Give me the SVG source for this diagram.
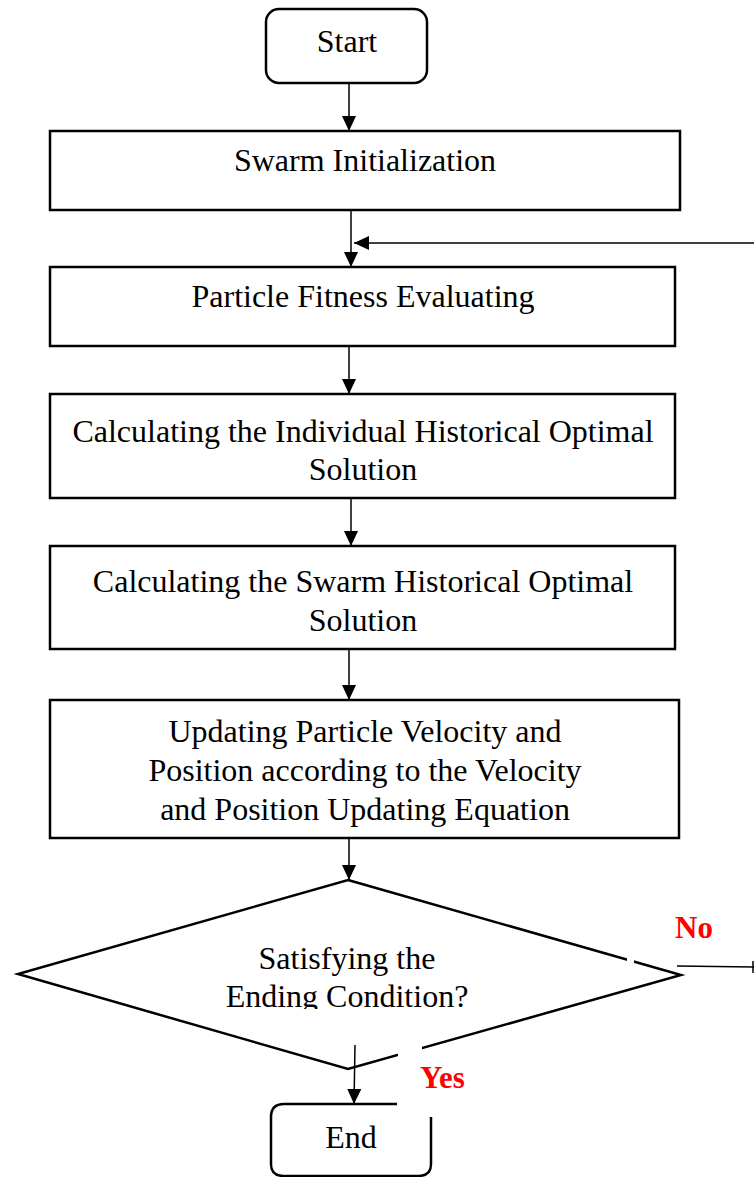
<svg xmlns="http://www.w3.org/2000/svg" width="754" height="1177" viewBox="0 0 754 1177">
<style>
.box{fill:#fff;stroke:#000;stroke-width:2.5}
.t{font-family:"Liberation Serif","Times New Roman",serif;font-size:32px;fill:#000;text-anchor:middle}
.lbl{font-family:"Liberation Serif","Times New Roman",serif;font-size:31px;font-weight:bold;fill:#ff0000}
.c{stroke:#000;stroke-width:1.5;fill:none}
</style>
<defs>
<marker id="ah" markerWidth="15" markerHeight="14" refX="15" refY="7" orient="auto" markerUnits="userSpaceOnUse">
<path d="M0,0 L15,7 L0,14 Z" fill="#000"/>
</marker>
<clipPath id="dclip"><rect x="0" y="930" width="754" height="79"/></clipPath>
</defs>
<g id="start">
<rect class="box" x="266" y="9" width="161" height="74" rx="13"/>
<text class="t" x="347" y="52">Start</text>
</g>
<g id="init">
<rect class="box" x="50" y="131" width="630" height="79"/>
<text class="t" x="365" y="171">Swarm Initialization</text>
</g>
<g id="fitness">
<rect class="box" x="50" y="267" width="625" height="79"/>
<text class="t" x="363" y="307">Particle Fitness Evaluating</text>
</g>
<g id="individual">
<rect class="box" x="50" y="394" width="625" height="104"/>
<text class="t" x="363" y="442">Calculating the Individual Historical Optimal</text>
<text class="t" x="363" y="480">Solution</text>
</g>
<g id="swarm">
<rect class="box" x="50" y="546" width="625" height="103"/>
<text class="t" x="363" y="592">Calculating the Swarm Historical Optimal</text>
<text class="t" x="363" y="631">Solution</text>
</g>
<g id="update">
<rect class="box" x="50" y="700" width="629" height="138"/>
<text class="t" x="365" y="742">Updating Particle Velocity and</text>
<text class="t" x="365" y="781">Position according to the Velocity</text>
<text class="t" x="365" y="820">and Position Updating Equation</text>
</g>
<g id="decision">
<polygon class="box" points="348,880 681,975 348,1069 18,974"/>
<rect x="627" y="955" width="7" height="10" fill="#fff"/>
<rect x="398" y="1040" width="24" height="20" fill="#fff"/>
<g clip-path="url(#dclip)">
<text class="t" x="347" y="969">Satisfying the</text>
<text class="t" x="347" y="1007">Ending Condition?</text>
</g>
</g>
<g id="end">
<path class="box" d="M397,1104 L284,1104 Q271,1104 271,1117 L271,1164 Q271,1176 284,1176 L418,1176 Q431,1176 431,1164 L431,1117" fill="#fff"/>
<text class="t" x="351" y="1148">End</text>
</g>
<g id="connectors">
<line class="c" x1="349" y1="83" x2="349" y2="131" marker-end="url(#ah)"/>
<line class="c" x1="351" y1="210" x2="351" y2="267" marker-end="url(#ah)"/>
<line class="c" x1="754" y1="243" x2="354" y2="243" marker-end="url(#ah)"/>
<line class="c" x1="349" y1="346" x2="349" y2="394" marker-end="url(#ah)"/>
<line class="c" x1="351" y1="498" x2="351" y2="546" marker-end="url(#ah)"/>
<line class="c" x1="349" y1="649" x2="349" y2="700" marker-end="url(#ah)"/>
<line class="c" x1="349" y1="838" x2="349" y2="880" marker-end="url(#ah)"/>
<line class="c" x1="677" y1="966" x2="754" y2="967"/>
<line class="c" x1="753" y1="961" x2="753" y2="973"/>
<line class="c" x1="355" y1="1045" x2="354" y2="1104" marker-end="url(#ah)"/>
<text class="lbl" x="675" y="938">No</text>
<text class="lbl" x="420" y="1088">Yes</text>
</g>
</svg>
